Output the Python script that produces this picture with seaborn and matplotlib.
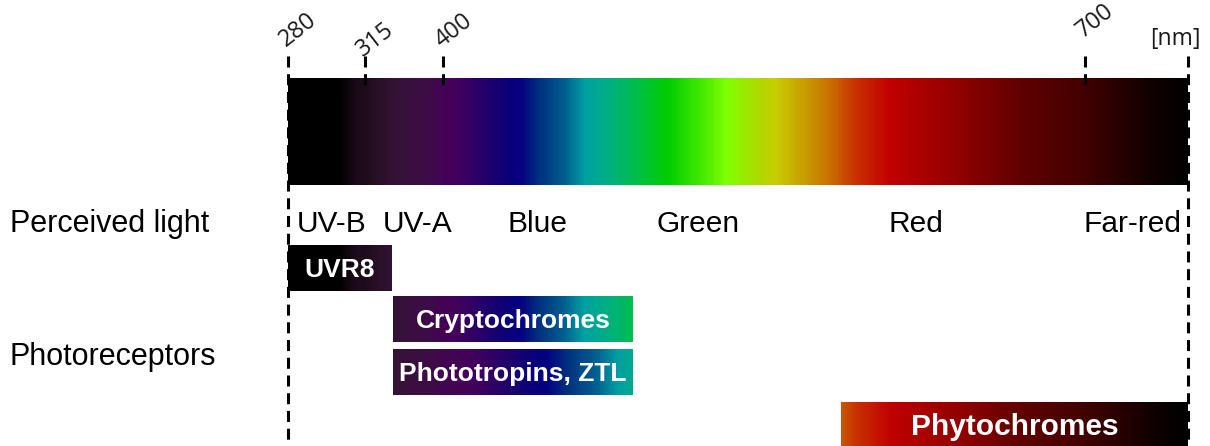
import numpy as np
import matplotlib
matplotlib.use("Agg")
import matplotlib.pyplot as plt
from matplotlib.colors import LinearSegmentedColormap, Normalize
import seaborn as sns

# ---- wavelength axis: the strip is drawn on a piecewise scale -------------
axis_nm = [149, 280, 315, 400, 700, 750, 761]
axis_pos = [0, 288, 365, 443, 1085, 1188, 1210]

tick_nm = [280, 315, 400, 700]
tick_labels = ["280", "315", "400", "700"]
unit_label = "[nm]"
range_nm = [280, 750]

# ---- colour of the light along the spectrum -------------------------------
spectrum_nm = [280, 303, 310, 331, 353, 386, 405, 430, 436, 445, 457, 466,
               478, 492, 505, 520, 533, 548, 556, 581, 593, 609, 642, 670,
               700, 732, 750]
spectrum_hex = ["#000000", "#000000", "#1a0a18", "#2a1028", "#351238",
                "#3e0a48", "#44005a", "#0a0078", "#050080", "#00307e",
                "#006090", "#00a0a0", "#00b080", "#00c040", "#00cc00",
                "#40e800", "#80ff00", "#b0d800", "#c8cc00", "#c87000",
                "#c83000", "#c00000", "#900000", "#600000", "#420000",
                "#120000", "#000000"]

# ---- perceived light bands -------------------------------------------------
light_names = ["UV-B", "UV-A", "Blue", "Green", "Red", "Far-red"]
light_nm = [300, 372, 444, 519, 621, 723]

# ---- photoreceptor absorption ranges --------------------------------------
receptor_names = ["UVR8", "Cryptochromes", "Phototropins, ZTL", "Phytochromes"]
receptor_start = [280, 345, 345, 586]
receptor_end = [344, 489, 489, 750]
receptor_tint_end = [344, 489, 472, 750]

row_labels = ["Perceived light", "Photoreceptors"]

# ---- layout (vertical positions in pixels from the top) -------------------
FIG_W, FIG_H = 1210, 446
strip_top, strip_bottom = 78, 185
light_baseline = 232
receptor_tops = [245, 296, 349, 402]
receptor_height = 46
receptor_fontsize = [19, 19, 19, 21.5]
row_label_baselines = [232, 365]
tick_label_base = [47, 57, 48, 38]

sns.set_theme(style="white")
plt.rcParams["font.family"] = ["Liberation Sans", "DejaVu Sans"]

fig = plt.figure(figsize=(FIG_W / 100, FIG_H / 100), dpi=100)
ax = fig.add_axes([0, 0, 1, 1])


def fwd(x):
    return np.interp(x, axis_nm, axis_pos)


def inv(x):
    return np.interp(x, axis_pos, axis_nm)


ax.set_xscale("function", functions=(fwd, inv))
ax.set_xlim(axis_nm[0], axis_nm[-1])
ax.set_ylim(FIG_H, 0)
ax.axis("off")

norm = Normalize(range_nm[0], range_nm[1])
stops = [(norm(w), c) for w, c in zip(spectrum_nm, spectrum_hex)]
spectrum_cmap = LinearSegmentedColormap.from_list("spectrum", stops, N=1024)


def gradient_band(x0, x1, c0, c1, y0, y1, n=300):
    xe = np.linspace(x0, x1, n + 1)
    vals = np.linspace(c0, c1, n)[None, :]
    ax.pcolormesh(xe, [y0, y1], vals, cmap=spectrum_cmap, norm=norm,
                  shading="flat", edgecolors="none", antialiased=False,
                  rasterized=True, zorder=2)


# spectrum strip
gradient_band(range_nm[0], range_nm[1], range_nm[0], range_nm[1],
              strip_top, strip_bottom, n=470)

# dashed guides
dash = (0, (3.6, 2.2))
for w in range_nm:
    ax.plot([w, w], [56, FIG_H], color="black", lw=2.2, linestyle=dash,
            zorder=1, dash_capstyle="butt")
for w in tick_nm[1:]:
    ax.plot([w, w], [56, 86], color="black", lw=2.2, linestyle=dash,
            zorder=3, dash_capstyle="butt")

# wavelength labels
for w, lab, yb in zip(tick_nm, tick_labels, tick_label_base):
    ax.annotate(lab, xy=(w, yb), xytext=(-2, 0), textcoords="offset pixels",
                rotation=38, rotation_mode="anchor", ha="left",
                va="baseline", fontsize=17, color="#1a1a1a",
                family=["Open Sans", "DejaVu Sans"])
ax.annotate(unit_label, xy=(range_nm[1], 45), xytext=(-13, 0),
            textcoords="offset pixels", ha="center", va="baseline",
            fontsize=16.5, color="#1a1a1a", family=["Open Sans", "DejaVu Sans"])

# perceived light names
for name, w in zip(light_names, light_nm):
    ax.text(w, light_baseline, name, ha="center", va="baseline",
            fontsize=21.5, color="black")

# row labels
for lab, yb in zip(row_labels, row_label_baselines):
    ax.annotate(lab, xy=(0, yb), xycoords=("axes fraction", "data"),
                xytext=(10, 0), textcoords="offset pixels",
                ha="left", va="baseline", fontsize=22, color="black")

# photoreceptor bars
for name, x0, x1, t1, top, fs in zip(receptor_names, receptor_start,
                                     receptor_end, receptor_tint_end,
                                     receptor_tops, receptor_fontsize):
    gradient_band(x0, x1, x0, t1, top, top + receptor_height, n=200)
    xc = inv((fwd(x0) + fwd(x1)) / 2)
    ax.text(xc, top + receptor_height / 2 + fs * 0.48, name, ha="center",
            va="baseline", fontsize=fs, fontweight="bold", color="white",
            zorder=4)

fig.savefig("out.png", dpi=100)
